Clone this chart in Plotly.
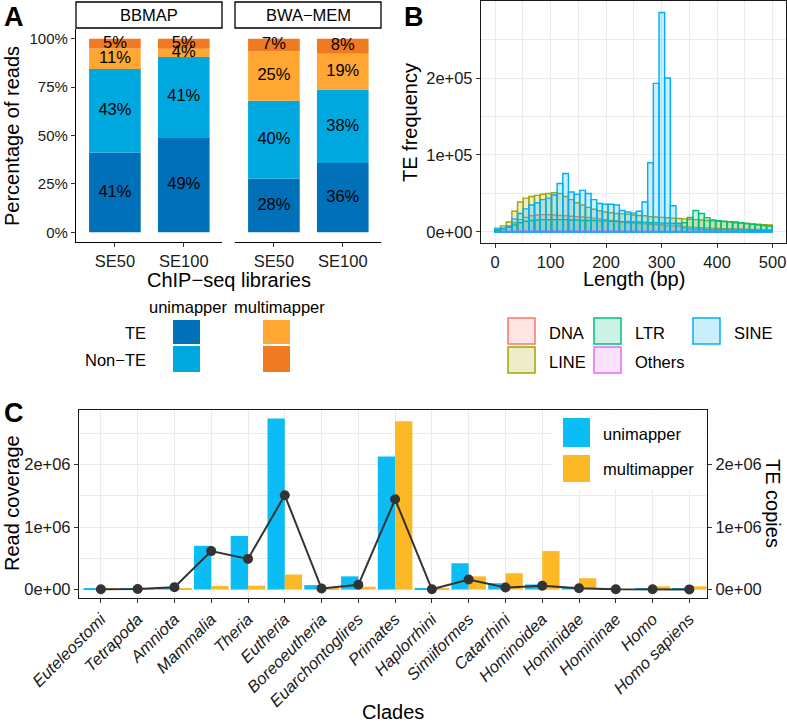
import plotly.graph_objects as go

W, H = 787, 725
FONT = "Liberation Sans, Arial, Helvetica, sans-serif"


def px(x):
    return x / W


def py(y):
    return 1 - y / H


# ---------------- Panel A data ----------------
libraries = ["SE50", "SE100"]
bbmap_uni_te = [41.1, 49.1]
bbmap_uni_nonte = [43.2, 41.4]
bbmap_multi_te = [10.6, 4.3]
bbmap_multi_nonte = [5.1, 5.2]
bwa_uni_te = [27.6, 35.8]
bwa_uni_nonte = [40.4, 37.8]
bwa_multi_te = [25.4, 18.6]
bwa_multi_nonte = [6.6, 7.8]
a_colors = ["#0070B8", "#00A8E0", "#FFA633", "#F07A22"]
a_yticks = [0, 25, 50, 75, 100]
a_yticklabels = ["0%", "25%", "50%", "75%", "100%"]

# ---------------- Panel B data ----------------
bin_width = 10.2
bin_first_center = 4.6
n_bins = 49
bin_centers = [bin_first_center + bin_width * k for k in range(n_bins)]
te_classes = ["DNA", "LINE", "LTR", "Others", "SINE"]
dna_freq = [2000, 4000, 7000, 12000, 16000, 19000, 21000, 22000, 22500, 22500,
            22000, 21500, 21000, 20500, 20000, 19500, 19000, 18000, 17000, 16000,
            15000, 14000, 13000, 12000, 11500, 11000, 10500, 10000, 9500, 9000,
            8500, 8000, 7500, 7000, 6500, 6000, 5500, 5200, 5000, 4700,
            4400, 4200, 4000, 3800, 3600, 3400, 3200, 3000, 2800]
line_freq = [3000, 8000, 13000, 27000, 39000, 44000, 46000, 47500, 49000, 50000,
             51000, 50000, 46000, 42000, 38000, 35000, 32000, 29500, 27500, 26000,
             25000, 24000, 23500, 23000, 22000, 21500, 21000, 20000, 19500, 19000,
             18500, 18000, 17500, 17000, 16500, 16000, 15500, 15000, 14500, 14000,
             13500, 13000, 12000, 11500, 11000, 10500, 10000, 9500, 9000]
ltr_freq = [2500, 4000, 6000, 9000, 12000, 14000, 15000, 15500, 16000, 16000,
            16000, 16000, 16000, 15500, 15500, 15000, 15000, 15000, 14500, 14500,
            14000, 14000, 13500, 13500, 13000, 13000, 12500, 12000, 12000, 11500,
            11500, 11000, 11000, 12000, 19000, 28000, 24000, 18600, 15600, 14700,
            14000, 13500, 13000, 12000, 11000, 10000, 9000, 8500, 7800]
others_freq = [500, 800, 1000, 1200, 1400, 1500, 1500, 1500, 1500, 1500,
               1500, 1500, 1500, 1500, 1500, 1500, 1400, 1400, 1400, 1300,
               1300, 1300, 1200, 1200, 1200, 1100, 1100, 1100, 1000, 1000,
               1000, 1000, 900, 900, 900, 900, 800, 800, 800, 800,
               700, 700, 700, 700, 600, 600, 600, 600, 500]
sine_freq = [5000, 5000, 8000, 17000, 24000, 30000, 35000, 38000, 42000, 44000,
             48000, 63000, 76000, 52000, 49000, 54000, 50000, 42000, 37000, 36000,
             36000, 35000, 28000, 26000, 24500, 27000, 39000, 90000, 193000, 285000,
             200000, 34000, 11000, 5000, 4000, 3500, 3500, 3000, 3000, 3000,
             3000, 2500, 2500, 2500, 2500, 2000, 2000, 2000, 2000]
te_series = [dna_freq, line_freq, ltr_freq, others_freq, sine_freq]
te_colors = [(248, 118, 109), (163, 165, 0), (0, 191, 125), (231, 107, 243), (0, 176, 246)]
b_xticks = [0, 100, 200, 300, 400, 500]
b_yticks = [0, 100000, 200000]
b_yticklabels = ["0e+00", "1e+05", "2e+05"]

# ---------------- Panel C data ----------------
clades = ["Euteleostomi", "Tetrapoda", "Amniota", "Mammalia", "Theria", "Eutheria",
          "Boreoeutheria", "Euarchontoglires", "Primates", "Haplorrhini", "Simiiformes",
          "Catarrhini", "Hominoidea", "Hominidae", "Homininae", "Homo", "Homo sapiens"]
unimapper_cov = [20000, 10000, 40000, 700000, 855000, 2740000, 70000, 210000, 2130000,
                 25000, 420000, 100000, 80000, 40000, 10000, 10000, 20000]
multimapper_cov = [10000, 20000, 20000, 55000, 60000, 240000, 20000, 45000, 2695000,
                   20000, 210000, 260000, 615000, 180000, 5000, 50000, 50000]
te_copies = [3000, 6000, 35000, 615000, 490000, 1510000, 15000, 75000, 1445000,
             2000, 160000, 30000, 60000, 20000, 2000, 2000, 1000]
c_yticks = [0, 1000000, 2000000]
c_yticklabels = ["0e+00", "1e+06", "2e+06"]
c_colors = ["#0CBDF5", "#FDB825"]

fig = go.Figure()

# ---- Panel A bars (stacked via base) ----
facets = [
    ("x", "y", [bbmap_uni_te, bbmap_uni_nonte, bbmap_multi_te, bbmap_multi_nonte]),
    ("x2", "y2", [bwa_uni_te, bwa_uni_nonte, bwa_multi_te, bwa_multi_nonte]),
]
for xa, ya, series in facets:
    base = [0.0] * len(libraries)
    mids, labels, xs = [], [], []
    for vals, col in zip(series, a_colors):
        fig.add_trace(go.Bar(x=libraries, y=vals, base=base[:], width=0.75,
                             marker=dict(color=col, line=dict(width=0)),
                             xaxis=xa, yaxis=ya, showlegend=False))
        for i, v in enumerate(vals):
            xs.append(libraries[i])
            mids.append(base[i] + v / 2)
            labels.append(f"{round(v)}%")
        base = [b + v for b, v in zip(base, vals)]
    fig.add_trace(go.Scatter(x=xs, y=mids, text=labels, mode="text",
                             textfont=dict(size=16.5, color="black", family=FONT),
                             xaxis=xa, yaxis=ya, showlegend=False))

# ---- Panel B overlaid histograms ----
for name, vals, (r, g, b) in zip(te_classes, te_series, te_colors):
    fig.add_trace(go.Bar(x=bin_centers, y=vals, width=bin_width, name=name,
                         marker=dict(color=f"rgba({r},{g},{b},0.2)",
                                     line=dict(color=f"rgb({r},{g},{b})", width=1.4)),
                         xaxis="x3", yaxis="y3", showlegend=False))

# ---- Panel C dodged bars + line ----
fig.add_trace(go.Bar(x=clades, y=unimapper_cov, width=0.47, offset=-0.47,
                     marker=dict(color=c_colors[0], line=dict(width=0)),
                     xaxis="x4", yaxis="y4", showlegend=False))
fig.add_trace(go.Bar(x=clades, y=multimapper_cov, width=0.47, offset=0.0,
                     marker=dict(color=c_colors[1], line=dict(width=0)),
                     xaxis="x4", yaxis="y4", showlegend=False))
fig.add_trace(go.Scatter(x=clades, y=te_copies, mode="lines+markers",
                         line=dict(color="#333333", width=2),
                         marker=dict(color="#333333", size=10),
                         xaxis="x4", yaxis="y5", showlegend=False))

axis_font = dict(family=FONT, size=16.5, color="#1a1a1a")
grid = "#EBEBEB"
common = dict(ticks="outside", ticklen=4, tickcolor="#333333", tickwidth=1.1,
              tickfont=axis_font, zeroline=False, fixedrange=True, automargin=False)
common_a_y = dict(common)
common_a_y["tickfont"] = dict(family=FONT, size=15, color="#1a1a1a")

fig.update_layout(
    width=W, height=H, margin=dict(l=0, r=0, t=0, b=0, pad=0), autosize=False,
    paper_bgcolor="white", plot_bgcolor="white", barmode="overlay",
    font=dict(family=FONT), showlegend=False,
    xaxis=dict(domain=[px(76), px(222)], anchor="y", range=[-0.565, 1.555],
               showline=True, linecolor="black", linewidth=1.3, showgrid=False, **common),
    yaxis=dict(domain=[py(242), py(29)], anchor="x", range=[-5, 105],
               tickvals=a_yticks, ticktext=a_yticklabels,
               showline=True, linecolor="black", linewidth=1.3, showgrid=False, **common_a_y),
    xaxis2=dict(domain=[px(235), px(381)], anchor="y2", range=[-0.565, 1.555],
                showline=True, linecolor="black", linewidth=1.3, showgrid=False, **common),
    yaxis2=dict(domain=[py(242), py(29)], anchor="x2", range=[-5, 105], visible=False,
                fixedrange=True, automargin=False),
    xaxis3=dict(domain=[px(481), px(786)], anchor="y3", range=[-25.5, 524.2],
                tickvals=b_xticks, showline=True, mirror=True, linecolor="#1a1a1a",
                linewidth=1.3, showgrid=True, gridcolor=grid, gridwidth=1.1,
                minor=dict(tickvals=[50, 150, 250, 350, 450], showgrid=True,
                           gridcolor=grid, gridwidth=0.6),
                **common),
    yaxis3=dict(domain=[py(243), py(1)], anchor="x3", range=[-14300, 300000],
                tickvals=b_yticks, ticktext=b_yticklabels, showline=True, mirror=True,
                linecolor="#1a1a1a", linewidth=1.3, showgrid=True, gridcolor=grid,
                gridwidth=1.1,
                minor=dict(tickvals=[50000, 150000, 250000], showgrid=True,
                           gridcolor=grid, gridwidth=0.6),
                **common),
    xaxis4=dict(domain=[px(79), px(707)], anchor="y4", range=[-0.595, 16.48],
                tickangle=-45, showline=True, mirror=True, linecolor="#1a1a1a",
                linewidth=1.3, showgrid=True, gridcolor=grid, gridwidth=1.1,
                ticks="outside", ticklen=4, tickcolor="#333333", tickwidth=1.1,
                tickfont=dict(family=FONT, size=16.5, color="#1a1a1a", style="italic"),
                zeroline=False, fixedrange=True, automargin=False),
    yaxis4=dict(domain=[py(598), py(410)], anchor="x4", range=[-137000, 2877000],
                tickvals=c_yticks, ticktext=c_yticklabels, showline=True,
                linecolor="#1a1a1a", linewidth=1.3, showgrid=True, gridcolor=grid,
                gridwidth=1.1,
                minor=dict(tickvals=[500000, 1500000, 2500000], showgrid=True,
                           gridcolor=grid, gridwidth=0.6),
                **common),
    yaxis5=dict(overlaying="y4", anchor="x4", side="right", range=[-137000, 2877000],
                tickvals=c_yticks, ticktext=c_yticklabels, showgrid=False,
                showline=True, linecolor="#1a1a1a", linewidth=1.3, **common),
)

shapes = []
annotations = []


def rect(x0, y0, x1, y1, fill, line=None, lw=0):
    shapes.append(dict(type="rect", xref="paper", yref="paper",
                       x0=px(x0), x1=px(x1), y0=py(y1), y1=py(y0),
                       fillcolor=fill, line=dict(color=line or fill, width=lw),
                       layer="above"))


def text(x, y, s, size=16.5, xanchor="center", yanchor="middle", angle=0, color="black"):
    annotations.append(dict(xref="paper", yref="paper", x=px(x), y=py(y), text=s,
                            showarrow=False, xanchor=xanchor, yanchor=yanchor,
                            textangle=angle,
                            font=dict(size=size, color=color, family=FONT)))


# Panel labels
text(2, 17, "<b>A</b>", size=27, xanchor="left")
text(402, 17, "<b>B</b>", size=27, xanchor="left")
text(2, 413, "<b>C</b>", size=27, xanchor="left")

# Panel A strips
rect(76, 2, 222, 28, "white", "black", 1.3)
rect(235, 2, 381, 28, "white", "black", 1.3)
text(149, 15.5, "BBMAP", 16.5)
text(308, 15.5, "BWA\u2212MEM", 16.5)

# Axis titles
text(12, 136, "Percentage of reads", 20, angle=-90)
text(229, 280, "ChIP\u2212seq libraries", 20)
text(410, 123, "TE frequency", 20, angle=-90)
text(634, 279, "Length (bp)", 20)
text(12, 503, "Read coverage", 20, angle=-90)
text(393, 712, "Clades", 20)
text(773, 503, "TE copies", 20, angle=90)

# Panel A legend
text(188, 307, "unimapper", 16.5)
text(279, 307, "multimapper", 16.5)
text(148, 333, "TE", 16.5, xanchor="right")
text(148, 360, "Non\u2212TE", 16.5, xanchor="right")
rect(173, 320, 200, 344, a_colors[0])
rect(173, 346, 200, 372, a_colors[1])
rect(263, 320, 290, 344, a_colors[2])
rect(263, 346, 290, 372, a_colors[3])

# Panel B legend
b_leg = [("DNA", 508, 318), ("LTR", 594, 318), ("SINE", 693, 318),
         ("LINE", 508, 347), ("Others", 594, 347)]
col_map = dict(zip(te_classes, te_colors))
for name, x0, y0 in b_leg:
    r, g, b = col_map[name]
    rect(x0, y0, x0 + 27, y0 + 26, f"rgba({r},{g},{b},0.2)", f"rgb({r},{g},{b})", 1.5)
    text(x0 + 39, y0 + 15, name, 16.5, xanchor="left")

# Panel C legend
rect(553, 411, 705, 490, "white")
rect(563, 418, 590, 447, c_colors[0])
rect(563, 455, 590, 482, c_colors[1])
text(601, 434, "unimapper", 16.5, xanchor="left")
text(601, 469, "multimapper", 16.5, xanchor="left")

fig.update_layout(shapes=shapes, annotations=annotations)
fig.write_html("out.html", config={"displayModeBar": False},
               post_script="document.body.style.margin='0px';")
